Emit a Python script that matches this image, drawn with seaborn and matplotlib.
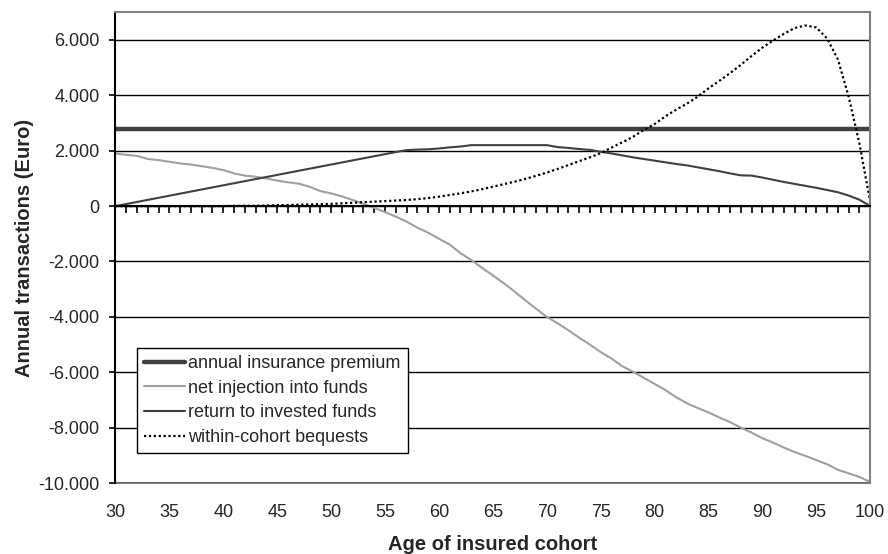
import numpy as np
import matplotlib
matplotlib.use("Agg")
import matplotlib.pyplot as plt
from matplotlib.ticker import FuncFormatter
import seaborn as sns

# values (Euro per year, by age of cohort)
ages = list(range(30, 101))

premium_level = 2780
premium = [premium_level] * len(ages)

net_injection = [
    1900, 1850, 1810, 1700, 1660, 1600, 1540, 1500, 1440, 1380,
    1300, 1180, 1100, 1060, 1000, 920, 860, 810, 700, 540,
    460, 350, 220, 80, -60, -220, -380, -560, -780, -960,
    -1180, -1390, -1700, -1950, -2230, -2500, -2780, -3080, -3400, -3700,
    -4000, -4230, -4480, -4750, -5000, -5270, -5500, -5780, -5980, -6200,
    -6420, -6640, -6900, -7120, -7290, -7450, -7630, -7800, -8000, -8180,
    -8380, -8540, -8720, -8880, -9020, -9170, -9320, -9520, -9650, -9780,
    -9960,
]

return_funds = [
    0, 75, 150, 225, 300, 375, 450, 525, 600, 675,
    750, 825, 900, 975, 1050, 1125, 1200, 1275, 1350, 1425,
    1500, 1575, 1650, 1725, 1800, 1875, 1950, 2020, 2040, 2050,
    2080, 2120, 2150, 2200, 2200, 2200, 2200, 2200, 2200, 2200,
    2200, 2130, 2100, 2060, 2030, 1960, 1900, 1830, 1760, 1700,
    1640, 1580, 1520, 1470, 1400, 1330, 1260, 1180, 1110, 1100,
    1030, 950, 870, 800, 730, 660, 580, 500, 380, 230,
    0,
]

bequests = [
    0, 0, 0, 0, 0, 0, 0, 0, 0, 0,
    0, 10, 10, 10, 20, 30, 40, 50, 60, 70,
    80, 100, 120, 140, 160, 180, 200, 220, 250, 290,
    340, 400, 460, 530, 610, 700, 790, 880, 980, 1090,
    1210, 1340, 1480, 1620, 1760, 1910, 2110, 2300, 2500, 2750,
    2960, 3240, 3480, 3700, 3950, 4250, 4520, 4800, 5100, 5420,
    5720, 5980, 6220, 6430, 6520, 6450, 6050, 5300, 3950, 2250,
    150,
]

labels = ['annual insurance premium', 'net injection into funds',
          'return to invested funds', 'within-cohort bequests']

sns.set_style("white")
plt.rcParams['font.family'] = ['Liberation Sans', 'DejaVu Sans']

fig, ax = plt.subplots(figsize=(8.88, 5.54), dpi=100)
fig.subplots_adjust(left=0.130, right=0.980, top=0.978, bottom=0.128)

sns.lineplot(x=ages, y=premium, ax=ax, color='#404040', lw=3.2, label=labels[0])
sns.lineplot(x=ages, y=net_injection, ax=ax, color='#a0a0a0', lw=1.5, label=labels[1])
sns.lineplot(x=ages, y=return_funds, ax=ax, color='#404040', lw=1.5, label=labels[2])
sns.lineplot(x=ages, y=bequests, ax=ax, color='black', lw=1.6,
             linestyle=(0, (1, 1.2)), label=labels[3])

ax.set_xlim(30, 100)
ax.set_ylim(-10000, 7000)
ax.set_yticks(range(-10000, 6001, 2000))
ax.yaxis.set_major_formatter(FuncFormatter(lambda v, p: f"{v:,.0f}".replace(',', '.')))
ax.set_axisbelow(True)
ax.yaxis.grid(True, color='black', lw=1.0)
ax.xaxis.grid(False)

# x axis line with yearly ticks sits at zero
ax.spines['bottom'].set_position(('data', 0))
ax.spines['bottom'].set_color('black')
ax.spines['bottom'].set_linewidth(1.5)
ax.set_xticks(ages)
ax.set_xticklabels([])
ax.tick_params(axis='x', direction='out', length=5, width=1.2, color='black', bottom=True)

ax.spines['left'].set_color('black')
ax.spines['left'].set_linewidth(1.5)
for s in ['top', 'right']:
    ax.spines[s].set_color('#808080')
    ax.spines[s].set_linewidth(1.5)
ax.tick_params(axis='y', direction='out', length=4.5, width=1.2, color='black',
               left=True, labelsize=13, pad=7)

# labels of the age axis at the bottom frame
sec = ax.secondary_xaxis(0.0)
sec.set_xticks(range(30, 101, 5))
sec.tick_params(axis='x', length=0, pad=15, labelsize=13)
sec.spines['bottom'].set_color('#808080')
sec.spines['bottom'].set_linewidth(1.5)
sec.set_xlabel('Age of insured cohort', fontsize=14.5, fontweight='bold', labelpad=10)

ax.set_ylabel('Annual transactions (Euro)', fontsize=14.5, fontweight='bold', labelpad=3)
ax.set_xlabel('')

leg = ax.legend(loc='lower left', bbox_to_anchor=(0.0285, 0.0637), borderaxespad=0,
                frameon=True, fancybox=False, edgecolor='black', framealpha=1,
                handlelength=2.25, handletextpad=0.2, labelspacing=0.42,
                borderpad=0.4, fontsize=13)
leg.get_frame().set_linewidth(1.0)

plt.savefig('out.png', dpi=100)
